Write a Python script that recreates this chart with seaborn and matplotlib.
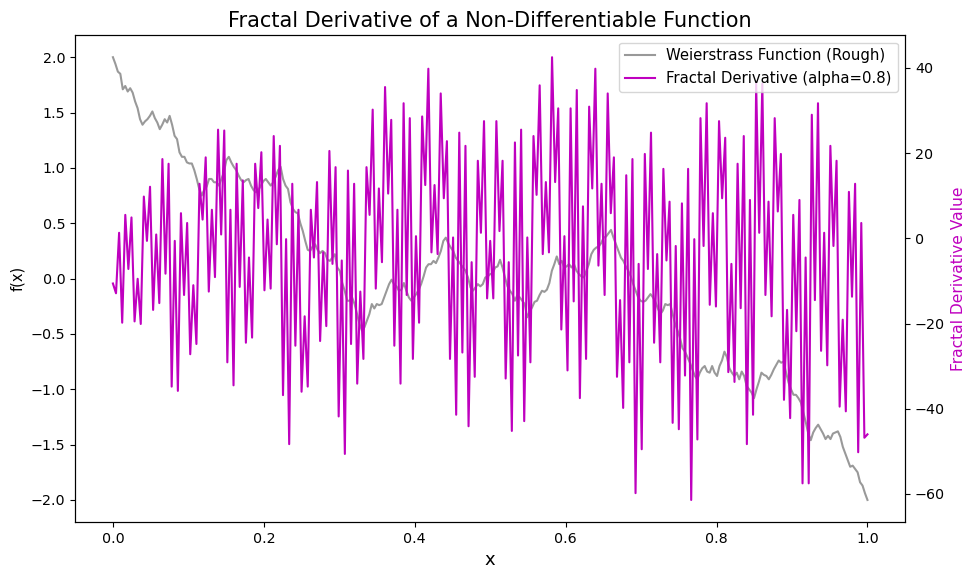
import numpy as np
import pandas as pd
import seaborn as sns
import matplotlib
matplotlib.use("Agg")
import matplotlib.pyplot as plt

# Weierstrass function (rough), left axis
weierstrass = [
    2.00, 1.94, 1.87, 1.85, 1.71, 1.74, 1.69, 1.72, 1.68, 1.60, 1.54, 1.44, 1.39, 1.42, 1.44, 1.47,
    1.51, 1.45, 1.41, 1.35, 1.39, 1.44, 1.41, 1.47, 1.39, 1.29, 1.26, 1.14, 1.10, 1.10, 1.05, 1.04,
    1.04, 0.98, 0.90, 0.81, 0.75, 0.80, 0.83, 0.90, 0.90, 0.87, 0.87, 0.84, 0.90, 0.96, 1.07, 1.10,
    1.05, 1.01, 0.98, 0.93, 0.89, 0.87, 0.89, 0.90, 0.84, 0.80, 0.78, 0.80, 0.84,
    0.88, 0.90, 0.87, 0.84, 0.87, 0.92, 0.98, 1.01, 0.90, 0.84, 0.81, 0.69, 0.63, 0.60, 0.59, 0.50,
    0.43, 0.34, 0.26, 0.25, 0.29, 0.31, 0.26, 0.23, 0.25, 0.23, 0.17, 0.16, 0.19, 0.22,
    0.10, 0.07, -0.04, -0.11, -0.20, -0.20, -0.17, -0.23, -0.32, -0.41, -0.47, -0.44, -0.38, -0.32,
    -0.23, -0.27, -0.23, -0.24, -0.23, -0.17, -0.11, -0.05, -0.01, -0.05, -0.07, -0.11, -0.10, -0.04,
    -0.11, -0.17, -0.20, -0.17, -0.14, -0.10, -0.05, 0.02, 0.10, 0.13, 0.13, 0.16, 0.14, 0.19, 0.25,
    0.34, 0.37, 0.32, 0.28, 0.25, 0.19, 0.16, 0.13, 0.10, 0.07, 0.01, -0.08, -0.11, -0.08, -0.05,
    -0.07, -0.05, 0.01, 0.02, 0.04, 0.05, 0.10, 0.11, 0.17, 0.10, 0.01, -0.07, -0.11, -0.14, -0.20,
    -0.15, -0.17, -0.20, -0.23, -0.35, -0.30, -0.26, -0.21, -0.20, -0.15, -0.11, -0.12, -0.10, -0.04,
    0.07, 0.13, 0.20,
    0.13, 0.16, 0.10, 0.11, 0.13, 0.10, 0.13, 0.07, 0.04, 0.02, 0.01, 0.07, 0.13, 0.22, 0.26, 0.28,
    0.29, 0.32, 0.37, 0.38, 0.41, 0.44, 0.37, 0.31, 0.25, 0.19, 0.16, 0.11, 0.07, 0.02,
    -0.05, -0.11, -0.17, -0.20, -0.21, -0.20, -0.17, -0.14, -0.17, -0.21, -0.27, -0.32, -0.29, -0.23,
    -0.24, -0.23, -0.32, -0.41, -0.47, -0.54, -0.63, -0.66, -0.71, -0.76, -0.82, -0.88, -0.91, -0.85,
    -0.81, -0.79, -0.84, -0.85,
    -0.79, -0.85, -0.88, -0.79, -0.74, -0.66, -0.71, -0.81, -0.85, -0.88, -0.85, -0.91, -0.84, -0.88,
    -0.97, -1.00, -1.03, -1.08, -1.00, -0.93, -0.85, -0.87, -0.88, -0.91, -0.87, -0.82, -0.78, -0.74,
    -0.76, -0.75,
    -0.85, -0.94, -1.00, -1.05, -1.05, -1.08, -1.12, -1.21, -1.30, -1.40, -1.46, -1.39, -1.35, -1.32,
    -1.36, -1.40, -1.45, -1.42, -1.45, -1.40, -1.39, -1.38, -1.43, -1.52, -1.58, -1.64, -1.70, -1.69,
    -1.72, -1.75, -1.84, -1.87, -1.94, -2.00,
]

# fractal derivative (alpha=0.8), right axis
fractal_deriv = [
    -10.6, -12.9, 1.3, -19.8, 5.5, -7.2, 4.9, -19.5, -9.5, -20.1, 9.8, -0.6, 12.1, -16.8, 0.9, -15.2,
    18.6, -8.3, 17.5, -34.8, -0.6, -35.8, 5.9, -13.3, 3.6, -27.2, -11.0, -24.8, 12.8, 4.4, 19.0, -12.5,
    6.7, -9.1, 25.5, 0.9, 25.3, -29.1, 6.7, -34.5, 17.5, -11.4, 13.6, -24.5, -4.5, -23.3, 17.5, 7.1,
    20.2, -12.2, 4.4, -11.8, 24.0, -1.4, 21.7, -36.8, -0.2, -48.3, 12.8, -25.2, 6.7, -36.0, -18.3, -34.8,
    6.7, -4.5, 13.2, -24.1, -3.3, -20.6, 20.5, -6.0, 16.7, -41.8, -5.2, -50.6, 15.9, -24.8, 12.8, -34.1,
    -12.5, -28.3, 16.7, 5.5, 30.2, -11.8, 11.7, -5.6, 35.5, 10.5, 27.8, -25.2, 6.7, -34.1, 31.7, -13.3,
    28.2, -28.3, 0.5, -19.8, 28.6, 12.5, 39.8, -3.3, 12.5, -3.7, 34.0, 9.4, 22.8, -28.3, 0.2, -41.4,
    24.8, -26.8, 21.7, -44.1, -5.6, -32.5, 18.2, 1.3, 27.5, -14.1, -0.6, -14.1, 27.5, 1.7, 18.2, -32.9,
    -5.6, -45.2, 22.5, -27.5, 25.5, -42.9, 0.2, -29.1, 24.0, 10.2, 35.9, -3.7, 13.2, -3.3, 42.5, 13.2,
    30.5, -21.4, 0.5, -31.0, 30.5, -14.8, 34.8, -37.5, 7.5, -28.3, 30.9, 11.7, 39.8, -6.4, 12.8, -13.3,
    34.0, 5.9, 19.0, -32.5, -14.5, -39.8, 14.8, -29.1, 18.6, -59.8, -6.0, -49.5, 19.8, -7.2, 24.8, -24.5,
    -3.7, -29.1, 16.3, -5.2, 8.6, -43.3, -1.8, -44.8, 8.2, -32.2, 16.3, -61.4, -0.2, -47.2, 28.2, -1.8,
    31.7, -15.6, 5.9, -16.0, 27.5, 9.4, 23.6, -31.4, -6.0, -33.7, 17.5, -16.4, 24.0, -48.3, 9.0, -41.4,
    36.3, 1.3, 36.3, -13.3, 8.6, -18.3, 28.2, 6.3, 19.8, -37.9, -16.8, -42.2, 5.5, -21.8, 9.0, -57.5,
    -4.5, -57.5, 29.0, -14.5, 31.7, -26.4, 1.3, -29.8, 21.7, -1.8, 18.2, -39.5, -19.1, -40.6, 10.9, -13.7,
    12.8, -50.2, 3.6, -46.8, -46.0,
]

df_w = pd.DataFrame({"x": np.linspace(0, 1, len(weierstrass)), "f": weierstrass})
df_d = pd.DataFrame({"x": np.linspace(0, 1, len(fractal_deriv)), "d": fractal_deriv})

fig = plt.figure(figsize=(9.64, 5.75), dpi=100)
ax1 = fig.add_axes([0.078, 0.092, 0.861, 0.847])

sns.lineplot(data=df_w, x="x", y="f", ax=ax1, color="gray", alpha=0.8,
             label="Weierstrass Function (Rough)", sort=False)
ax1.set_xlabel("x", fontsize=13)
ax1.set_ylabel("f(x)", fontsize=10.5)
ax1.tick_params(labelsize=10.3)

ax2 = ax1.twinx()
sns.lineplot(data=df_d, x="x", y="d", ax=ax2, color="m",
             label="Fractal Derivative (alpha=0.8)", sort=False)
ax2.set_ylabel("Fractal Derivative Value", color="m", fontsize=11.2)
ax2.tick_params(labelsize=10.3)

# one legend for both lines, drawn above the magenta line
h1, l1 = ax1.get_legend_handles_labels()
h2, l2 = ax2.get_legend_handles_labels()
if ax1.get_legend():
    ax1.get_legend().remove()
ax2.legend(h1 + h2, l1 + l2, loc="upper right", fontsize=10.7)

ax1.set_title("Fractal Derivative of a Non-Differentiable Function", fontsize=15)

fig.savefig("out.png", dpi=100)
